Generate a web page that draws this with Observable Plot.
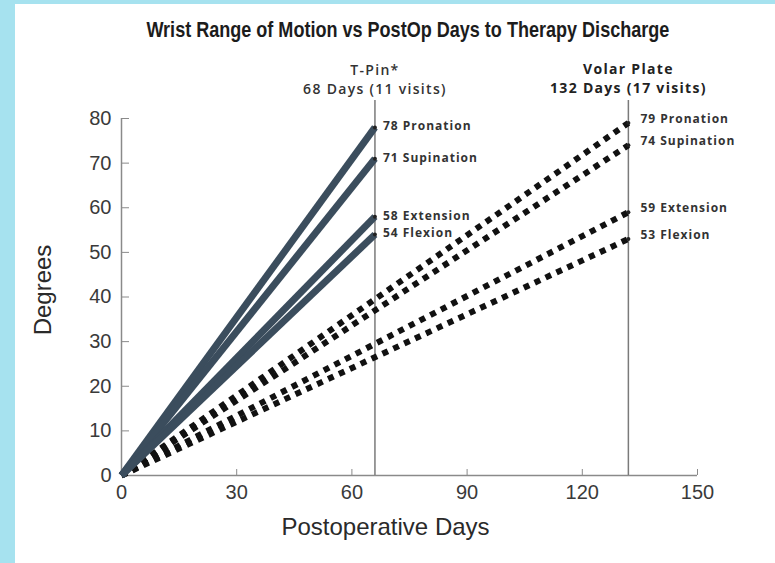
<!DOCTYPE html>
<html>
<head>
<meta charset="utf-8">
<script src="https://cdn.jsdelivr.net/npm/d3@7"></script>
<script src="https://cdn.jsdelivr.net/npm/@observablehq/plot@0.6"></script>
<style>
html,body{margin:0;padding:0;background:#a6e2ef;width:775px;height:563px;overflow:hidden;}
#card{position:absolute;left:15px;top:4px;width:760px;height:559px;background:#fff;}
#title{position:absolute;left:0;top:13px;width:785px;text-align:center;font:bold 22px "Liberation Sans",Arial,sans-serif;color:#1c1c1c;}
#title span{display:inline-block;transform:scaleX(0.82);white-space:nowrap;}
#chart{position:absolute;left:0;top:52px;}
</style>
</head>
<body>
<div id="card">
  <div id="title"><span>Wrist Range of Motion vs PostOp Days to Therapy Discharge</span></div>
  <div id="chart"></div>
</div>
<script>
// ---- data ----
const measures = ["Pronation", "Supination", "Extension", "Flexion"];
const tpinValues = [78, 71, 58, 54];      // degrees at T-Pin discharge
const volarValues = [79, 74, 59, 53];     // degrees at Volar Plate discharge
const tpinDay = 66;                        // where the T-Pin discharge line is drawn
const volarDay = 132;                      // where the Volar Plate discharge line is drawn
const tpinHeader = ["T-Pin*", "68 Days (11 visits)"];
const volarHeader = ["Volar Plate", "132 Days (17 visits)"];
const xTicks = [0, 30, 60, 90, 120, 150];
const yTicks = [0, 10, 20, 30, 40, 50, 60, 70, 80];
const xLabel = "Postoperative Days";
const yLabel = "Degrees";

// ---- build tables ----
const lineRows = (day, values, group) => measures.flatMap((m, i) => [
  {group, measure: m, day: 0, deg: 0},
  {group, measure: m, day, deg: values[i]}
]);
const tpinLines = lineRows(tpinDay, tpinValues, "T-Pin");
const volarLines = lineRows(volarDay, volarValues, "Volar");
const tpinEnds = measures.map((m, i) => ({measure: m, day: tpinDay, deg: tpinValues[i]}));
const volarEnds = measures.map((m, i) => ({measure: m, day: volarDay, deg: volarValues[i]}));
const endText = d => `${d.deg} ${d.measure}`;

const sans = '"Liberation Sans", Arial, sans-serif';
const human = '"Open Sans", "Noto Sans", sans-serif';

const chart = Plot.plot({
  width: 760,
  height: 507,
  marginLeft: 106,
  marginRight: 78,
  marginTop: 62,
  marginBottom: 88,
  x: {domain: [0, 150], label: null},
  y: {domain: [0, 80], label: null},
  style: {fontFamily: sans, background: "transparent", overflow: "visible", color: "#3a3a3a"},
  marks: [
    // axes
    Plot.ruleY([0], {x1: 0, x2: 150, stroke: "#8a8a8a", strokeWidth: 1.5}),
    Plot.ruleX([0], {y1: 0, y2: 80, stroke: "#8a8a8a", strokeWidth: 1.5}),
    Plot.axisX(xTicks, {anchor: "bottom", tickSize: -6, tickPadding: 15, stroke: "#8a8a8a", fill: "#3a3a3a", fontSize: 20, label: null}),
    Plot.axisY(yTicks, {anchor: "left", tickSize: -8, tickPadding: 18, stroke: "#8a8a8a", fill: "#3a3a3a", fontSize: 20, label: null}),
    Plot.text([xLabel], {frameAnchor: "bottom", dx: -24, dy: 59, fontSize: 24, fill: "#2a2a2a"}),
    Plot.text([yLabel], {frameAnchor: "left", textAnchor: "middle", dx: -78, dy: -7, rotate: -90, fontSize: 24, fill: "#2a2a2a"}),
    // discharge lines
    Plot.ruleX([tpinDay, volarDay], {y1: 80, y2: 0, insetTop: -18, stroke: "#7a7a7a", strokeWidth: 1.5}),
    // series
    Plot.line(volarLines, {x: "day", y: "deg", z: "measure", stroke: "#111", strokeWidth: 6, strokeDasharray: "6,6", strokeLinecap: "butt"}),
    Plot.line(tpinLines, {x: "day", y: "deg", z: "measure", stroke: "#3b4d5d", strokeWidth: 7, strokeLinecap: "butt"}),
    Plot.dot(tpinEnds.concat(volarEnds), {x: "day", y: "deg", r: 2, fill: "#222"}),
    // end labels
    Plot.text(tpinEnds, {x: "day", y: "deg", text: endText, textAnchor: "start", dx: 8, dy: -1, fontSize: 12, fontWeight: "bold", fontFamily: human, fill: "#333"}),
    Plot.text(volarEnds, {x: "day", y: "deg", text: endText, textAnchor: "start", dx: 12, dy: -4, fontSize: 12, fontWeight: "bold", fontFamily: human, fill: "#333"}),
    // headers
    Plot.text([tpinHeader[0]], {x: () => tpinDay, frameAnchor: "top", dy: -53, fontSize: 14, fontWeight: 600, fontFamily: human, fill: "#333"}),
    Plot.text([tpinHeader[1]], {x: () => tpinDay, frameAnchor: "top", dy: -34, fontSize: 14, fontWeight: 600, fontFamily: human, fill: "#333"}),
    Plot.text([volarHeader[0]], {x: () => volarDay, frameAnchor: "top", dy: -54, fontSize: 14, fontWeight: "bold", fontFamily: human, fill: "#222"}),
    Plot.text([volarHeader[1]], {x: () => volarDay, frameAnchor: "top", dy: -35, fontSize: 14, fontWeight: "bold", fontFamily: human, fill: "#222"})
  ]
});
document.getElementById("chart").appendChild(chart);

// widen the spaced-out annotation lettering seen in the reference
const headerSet = new Set([...tpinHeader, ...volarHeader]);
const endSet = new Set([...tpinEnds, ...volarEnds].map(endText));
d3.select(chart).selectAll("text").each(function () {
  const t = this.textContent;
  if (headerSet.has(t)) this.style.letterSpacing = "1.3px";
  else if (endSet.has(t)) this.style.letterSpacing = "1px";
});
</script>
</body>
</html>
